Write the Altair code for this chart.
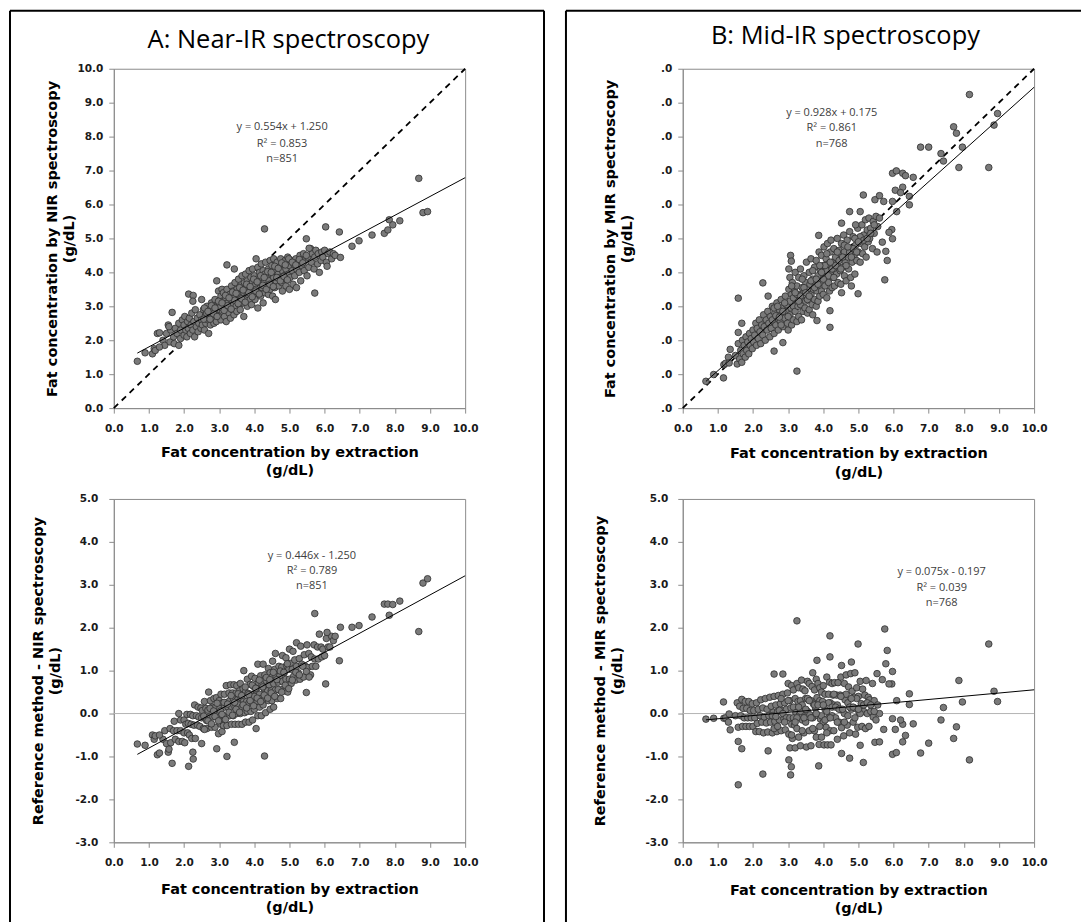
import altair as alt
import pandas as pd

# ---------------- values ----------------
# Panel A: (fat by extraction, fat by NIR spectroscopy)
nir_core = [
    (1.40, 2.00), (1.45, 1.85), (1.50, 2.20), (1.55, 2.45), (1.60, 1.95), (1.62, 2.30), (1.70, 2.10),
    (1.72, 1.90), (1.75, 2.35), (1.80, 2.20), (1.85, 2.50), (1.90, 2.05), (1.90, 2.30), (1.95, 2.60),
    (2.00, 2.15), (2.00, 2.45), (2.02, 2.70), (2.05, 2.30), (2.08, 2.10), (2.10, 2.55), (2.12, 2.35),
    (2.15, 2.65), (2.18, 2.20), (2.20, 2.45), (2.22, 2.80), (2.25, 2.30), (2.28, 2.55), (2.30, 2.10),
    (2.32, 2.90), (2.35, 2.40), (2.38, 2.65), (2.40, 2.25), (2.42, 2.50), (2.45, 2.75), (2.48, 2.35),
    (2.50, 3.20), (2.50, 2.60), (2.52, 2.45), (2.55, 2.90), (2.58, 2.30), (2.60, 2.70), (2.62, 2.50),
    (2.65, 3.00), (2.68, 2.60), (2.70, 2.20), (2.72, 2.80), (2.75, 2.45), (2.78, 3.10), (2.80, 2.65),
    (2.82, 2.90), (2.85, 2.50), (2.88, 3.20), (2.90, 2.75), (2.92, 2.55), (2.95, 3.00), (2.98, 3.45),
    (3.00, 2.70), (3.00, 3.10), (3.02, 2.90), (3.05, 3.30), (3.05, 2.60), (3.08, 3.50), (3.10, 2.85),
    (3.10, 3.15), (3.12, 3.40), (3.15, 2.70), (3.15, 3.00), (3.18, 3.25), (3.20, 2.55), (3.20, 2.95),
    (3.22, 3.50), (3.25, 3.10), (3.28, 2.80), (3.30, 3.35), (3.30, 3.00), (3.32, 2.65), (3.35, 3.60),
    (3.35, 3.20), (3.38, 2.90), (3.40, 3.45), (3.40, 3.05), (3.42, 2.75), (3.45, 3.30), (3.45, 3.70),
    (3.48, 3.00), (3.50, 3.50), (3.50, 2.85), (3.52, 3.20), (3.55, 3.80), (3.55, 3.35), (3.58, 3.05),
    (3.60, 3.60), (3.60, 2.90), (3.62, 3.25), (3.65, 3.50), (3.65, 3.90), (3.68, 3.10), (3.70, 3.40),
    (3.70, 2.70), (3.72, 3.70), (3.75, 3.25), (3.75, 3.95), (3.78, 3.50), (3.80, 3.00), (3.80, 3.75),
    (3.82, 3.35), (3.85, 4.05), (3.85, 3.60), (3.88, 3.20), (3.90, 3.85), (3.90, 3.45), (3.92, 3.05),
    (3.95, 3.70), (3.95, 4.10), (3.98, 3.35),
    (4.00, 3.60), (4.00, 3.90), (4.02, 3.20), (4.05, 4.40), (4.05, 3.50), (4.08, 3.80), (4.10, 2.95),
    (4.10, 4.15), (4.12, 3.40), (4.15, 3.70), (4.15, 4.00), (4.18, 3.30), (4.20, 3.85), (4.20, 4.25),
    (4.22, 3.55), (4.25, 3.10), (4.25, 4.05), (4.28, 3.70), (4.30, 3.40), (4.30, 3.95), (4.32, 4.30),
    (4.35, 3.60), (4.38, 3.85), (4.40, 3.35), (4.40, 4.10), (4.42, 3.75), (4.45, 4.35), (4.45, 3.50),
    (4.48, 3.95), (4.50, 3.65), (4.50, 4.20), (4.52, 3.30), (4.55, 3.85), (4.55, 4.40), (4.58, 3.55),
    (4.60, 4.05), (4.60, 3.20), (4.62, 3.75), (4.65, 4.30), (4.68, 3.95), (4.70, 3.60), (4.70, 4.15),
    (4.72, 3.85), (4.75, 4.40), (4.78, 3.70), (4.80, 4.05), (4.80, 3.45), (4.82, 4.25), (4.85, 3.90),
    (4.88, 4.35), (4.90, 3.60), (4.90, 4.10), (4.92, 3.80), (4.95, 4.45), (4.98, 3.95),
    (5.00, 3.50), (5.00, 4.20), (5.02, 3.85), (5.05, 4.35), (5.08, 4.05), (5.10, 3.65), (5.12, 4.25),
    (5.15, 3.90), (5.18, 4.40), (5.20, 3.55), (5.20, 4.10), (5.25, 4.30), (5.28, 4.00), (5.30, 4.50),
    (5.32, 3.75), (5.35, 4.20), (5.40, 4.55), (5.42, 4.05), (5.45, 4.35), (5.50, 3.90), (5.52, 4.45),
    (5.55, 4.15), (5.60, 4.70), (5.62, 4.30), (5.65, 4.55), (5.70, 4.10), (5.72, 4.45), (5.75, 4.65),
    (5.80, 4.25), (5.82, 4.55), (5.85, 4.00), (5.90, 4.35), (5.92, 4.60), (5.95, 4.45), (6.00, 4.65),
    (6.05, 4.30), (6.10, 4.55), (6.15, 4.60), (6.20, 4.40), (6.25, 4.55), (6.30, 4.50),
]
nir_core_dense = [
    (2.56, 2.62), (2.64, 2.80), (2.74, 2.62), (2.84, 2.78), (2.94, 2.70), (3.04, 2.98), (3.14, 2.88),
    (3.24, 3.02), (3.34, 2.92), (3.44, 3.18), (3.54, 3.08), (3.64, 3.22), (3.74, 3.12), (3.84, 3.40),
    (3.94, 3.28), (4.04, 3.45), (4.14, 3.36), (4.24, 3.62), (4.34, 3.50), (4.44, 3.65), (4.54, 3.58),
    (4.64, 3.85), (4.74, 3.75), (4.84, 3.88), (4.94, 3.78),
    (2.58, 2.95), (2.68, 2.85), (2.78, 3.02), (2.88, 2.95), (2.98, 3.15), (3.08, 3.10), (3.18, 3.32),
    (3.28, 3.25), (3.38, 3.42), (3.48, 3.38), (3.58, 3.55), (3.68, 3.48), (3.78, 3.65), (3.88, 3.58),
    (3.98, 3.80), (4.08, 3.72), (4.18, 3.90), (4.28, 3.85), (4.38, 4.02), (4.48, 4.00), (4.58, 4.18),
    (4.68, 4.12), (4.78, 4.28), (4.88, 4.22), (4.98, 4.40), (5.08, 4.30), (5.18, 4.22), (5.28, 4.38),
    (5.38, 4.28), (5.48, 4.50),
]
nir_outliers = [
    (0.67, 1.38), (0.89, 1.63), (1.10, 1.60), (1.15, 1.75), (1.18, 1.70), (1.24, 2.20), (1.30, 1.80),
    (1.30, 2.22), (1.57, 2.40), (1.66, 2.82), (1.85, 1.85), (2.13, 3.36), (2.26, 3.32), (2.25, 3.15),
    (2.93, 3.75), (3.22, 4.22), (3.43, 4.10), (4.29, 5.28), (5.48, 4.99), (5.72, 3.39), (6.03, 5.34),
    (6.42, 5.19), (5.56, 4.71), (6.07, 4.18), (6.45, 4.44), (6.78, 4.77), (6.98, 4.93), (7.35, 5.10),
    (7.70, 5.15), (7.80, 5.25), (7.84, 5.55), (7.94, 5.40), (8.14, 5.52), (8.68, 6.77), (8.80, 5.76),
    (8.93, 5.79),
]

# Panel B: (fat by extraction, fat by MIR spectroscopy)
mir_core = [
    (1.50, 1.55), (1.55, 1.30), (1.58, 1.90), (1.62, 1.45), (1.65, 1.70), (1.68, 1.35), (1.70, 2.00),
    (1.72, 1.60), (1.75, 1.85), (1.78, 1.50), (1.80, 2.10), (1.82, 1.70), (1.85, 1.95), (1.88, 1.60),
    (1.90, 2.20), (1.92, 1.85), (1.95, 2.05), (1.98, 1.75),
    (2.00, 2.30), (2.02, 1.95), (2.05, 2.15), (2.08, 2.50), (2.10, 1.85), (2.12, 2.35), (2.15, 2.05),
    (2.18, 2.60), (2.20, 2.25), (2.22, 1.90), (2.25, 2.45), (2.28, 2.15), (2.30, 2.75), (2.32, 2.40),
    (2.35, 2.00), (2.38, 2.60), (2.40, 2.30), (2.42, 2.85), (2.45, 2.50), (2.48, 2.10), (2.50, 2.70),
    (2.52, 2.35), (2.55, 3.00), (2.58, 2.55), (2.60, 2.20), (2.62, 2.80), (2.65, 2.45), (2.68, 3.10),
    (2.70, 2.65), (2.72, 2.30), (2.75, 2.90), (2.78, 2.55), (2.80, 3.20), (2.82, 2.75), (2.85, 2.40),
    (2.88, 3.00), (2.90, 2.65), (2.92, 3.30), (2.95, 2.85), (2.98, 2.50),
    (3.00, 3.10), (3.00, 2.30), (3.02, 3.50), (3.05, 2.75), (3.05, 3.85), (3.08, 2.95), (3.10, 3.35),
    (3.10, 2.45), (3.12, 3.70), (3.15, 3.00), (3.15, 2.60), (3.18, 3.45), (3.20, 2.85), (3.20, 4.00),
    (3.22, 3.20), (3.25, 2.55), (3.25, 3.60), (3.28, 3.00), (3.30, 3.85), (3.30, 2.70), (3.32, 3.35),
    (3.35, 3.05), (3.35, 4.10), (3.38, 2.60), (3.40, 3.55), (3.40, 3.20), (3.42, 2.85), (3.45, 3.90),
    (3.45, 3.40), (3.48, 2.95), (3.50, 3.70), (3.50, 3.15), (3.52, 4.30), (3.55, 2.80), (3.55, 3.50),
    (3.58, 3.25), (3.60, 4.00), (3.60, 2.90), (3.62, 3.65), (3.65, 3.35), (3.65, 4.40), (3.68, 3.05),
    (3.70, 3.80), (3.70, 2.75), (3.72, 3.50), (3.75, 4.15), (3.75, 3.20), (3.78, 3.65), (3.80, 3.00),
    (3.80, 4.35), (3.82, 3.45), (3.85, 3.90), (3.85, 3.15), (3.88, 4.60), (3.90, 3.60), (3.90, 3.30),
    (3.92, 4.05), (3.95, 3.45), (3.95, 4.50), (3.98, 3.70),
    (4.00, 3.35), (4.00, 4.20), (4.02, 4.75), (4.05, 3.60), (4.05, 3.95), (4.08, 4.40), (4.10, 3.25),
    (4.10, 4.05), (4.12, 4.85), (4.15, 3.70), (4.15, 4.25), (4.18, 3.45), (4.20, 4.60), (4.20, 3.95),
    (4.22, 4.95), (4.25, 3.55), (4.25, 4.30), (4.28, 3.85), (4.30, 4.70), (4.30, 4.10), (4.32, 3.60),
    (4.35, 4.45), (4.38, 3.95), (4.40, 5.00), (4.40, 4.20), (4.42, 3.70), (4.45, 4.65), (4.48, 4.05),
    (4.50, 4.40), (4.50, 3.65), (4.52, 4.85), (4.55, 4.15), (4.58, 5.10), (4.60, 3.90), (4.60, 4.60),
    (4.62, 4.30), (4.65, 3.75), (4.68, 4.95), (4.70, 4.45), (4.72, 4.10), (4.75, 5.20), (4.78, 3.85),
    (4.80, 4.70), (4.82, 4.30), (4.85, 5.05), (4.88, 4.50), (4.90, 3.95), (4.92, 4.80), (4.95, 4.35),
    (4.98, 5.30),
    (5.00, 4.60), (5.02, 5.00), (5.05, 4.30), (5.08, 4.85), (5.10, 5.40), (5.12, 4.55), (5.15, 5.10),
    (5.18, 4.75), (5.20, 5.55), (5.22, 4.45), (5.25, 5.25), (5.28, 4.90), (5.30, 5.60), (5.32, 5.00),
    (5.35, 5.30), (5.40, 4.70), (5.42, 5.50), (5.45, 5.15), (5.50, 5.65), (5.55, 5.35), (5.60, 5.60),
]
mir_core_dense = [
    (2.55, 2.60), (2.65, 2.72), (2.75, 2.68), (2.85, 2.85), (2.95, 3.05), (3.05, 3.15), (3.15, 3.25),
    (3.25, 3.35), (3.35, 3.30), (3.45, 3.55), (3.55, 3.20), (3.65, 3.75), (3.75, 3.55), (3.85, 3.65),
    (3.95, 4.00), (4.05, 4.20), (4.15, 3.90), (4.25, 4.10), (4.35, 4.20), (4.45, 4.35), (4.55, 4.45),
    (4.65, 4.20), (4.75, 4.60), (4.85, 4.70), (4.95, 4.60), (5.05, 5.05), (5.15, 4.95), (5.25, 5.00),
    (5.35, 5.15), (5.45, 5.40),
    (2.60, 2.95), (2.70, 3.00), (2.80, 2.45), (2.90, 3.10), (3.00, 2.70), (3.10, 3.60), (3.20, 3.40),
    (3.30, 3.15), (3.40, 3.80), (3.50, 3.40), (3.60, 3.30), (3.70, 4.05), (3.80, 3.80), (3.90, 4.20),
    (4.00, 3.80), (4.10, 4.55), (4.20, 4.30), (4.30, 3.85), (4.40, 4.60), (4.50, 4.10), (4.60, 4.80),
    (4.70, 4.75), (4.80, 4.45), (4.90, 5.00), (5.00, 4.90),
]
mir_outliers = [
    (0.66, 0.79), (0.88, 0.99), (1.16, 0.89), (1.17, 1.28), (1.22, 1.32), (1.30, 1.50), (1.32, 1.33),
    (1.35, 1.73), (1.58, 3.24), (1.58, 2.23), (1.68, 2.50), (2.28, 3.69), (2.43, 3.30), (2.60, 1.68),
    (2.85, 1.93), (3.25, 1.09), (3.07, 4.50), (3.09, 4.33), (3.02, 4.10), (3.82, 2.58), (3.87, 5.09),
    (4.19, 2.38), (4.19, 2.87), (4.52, 3.40), (4.80, 3.60), (4.99, 3.37), (4.75, 5.79), (5.05, 5.79),
    (4.52, 5.45), (4.92, 5.40), (5.14, 6.28), (5.47, 6.14), (5.60, 6.26), (5.72, 6.09), (5.75, 3.78),
    (5.82, 4.35), (5.97, 6.92), (6.08, 6.99), (6.26, 6.92), (6.34, 6.85), (6.56, 6.80), (6.05, 6.42),
    (6.26, 6.51), (6.20, 6.35), (6.45, 6.24), (6.45, 5.99), (5.97, 6.09), (6.09, 5.79), (5.97, 4.99),
    (5.95, 5.26), (5.87, 5.18), (5.68, 4.89), (5.53, 4.60), (5.78, 4.62), (6.77, 7.69), (7.00, 7.69),
    (7.35, 7.50), (7.42, 7.28), (7.71, 8.29), (7.79, 8.10), (7.96, 7.69), (7.86, 7.09), (8.16, 9.24),
    (8.71, 7.09), (8.86, 8.34), (8.96, 8.68),
]

# trend lines (slope, intercept) as printed on the figure
nir_fit_top = [0.554, 1.250]
nir_fit_bottom = [0.446, -1.250]
mir_fit_top = [0.928, 0.175]
mir_fit_bottom = [0.075, -0.197]

nir_top_stats = ["y = 0.554x + 1.250", "R\u00b2 = 0.853", "n=851"]
nir_bottom_stats = ["y = 0.446x - 1.250", "R\u00b2 = 0.789", "n=851"]
mir_top_stats = ["y = 0.928x + 0.175", "R\u00b2 = 0.861", "n=768"]
mir_bottom_stats = ["y = 0.075x - 0.197", "R\u00b2 = 0.039", "n=768"]

x_ticks = [0, 1, 2, 3, 4, 5, 6, 7, 8, 9, 10]
top_y_ticks = [0, 1, 2, 3, 4, 5, 6, 7, 8, 9, 10]
bottom_y_ticks = [-3, -2, -1, 0, 1, 2, 3, 4, 5]

# ---------------- tables ----------------
nir = pd.DataFrame(nir_core + nir_core_dense + nir_outliers, columns=["x", "pred"])
nir["diff"] = nir["x"] - nir["pred"]
mir = pd.DataFrame(mir_core + mir_core_dense + mir_outliers, columns=["x", "pred"])
mir["diff"] = mir["x"] - mir["pred"]

W = 352
H_TOP = 340
H_BOT = 344
ONE = pd.DataFrame({"k": [0]})
HYPHEN_LABELS = "replace(format(datum.value, '.1f'), '\u2212', '-')"


def panel(df, yfield, ydom, yticks, fit, stats, stats_pos, ytitle, h,
          xtitle_y, ytitle_x, ylab_pad, ref=None, label_expr=HYPHEN_LABELS,
          title=None, decor=()):
    x_enc = alt.X("x:Q", scale=alt.Scale(domain=[0, 10], nice=False, zero=False),
                  axis=alt.Axis(values=x_ticks, format=".1f", labelPadding=10,
                                labelFlush=False, labelOverlap=False,
                                title=["Fat concentration by extraction", "(g/dL)"],
                                titleY=xtitle_y, titleBaseline="top",
                                titleLineHeight=18.5))
    y_enc = alt.Y("y:Q", scale=alt.Scale(domain=ydom, nice=False, zero=False),
                  axis=alt.Axis(values=yticks, format=".1f", labelPadding=ylab_pad,
                                labelFlush=False, labelOverlap=False, labelExpr=label_expr,
                                title=[ytitle, "(g/dL)"], titleX=ytitle_x, titleY=h / 2,
                                titleAngle=270, titleAlign="center", titleBaseline="middle",
                                titleLineHeight=17))

    pts = df[["x", yfield]].rename(columns={yfield: "y"})
    layers = []
    for d in decor:
        layers.append(alt.Chart(ONE).mark_rule(color="black", strokeWidth=2).encode(**d))
    if title:
        layers.append(alt.Chart(ONE).mark_text(font="Open Sans", fontSize=25.5, align="center",
                                               baseline="alphabetic", color="black").encode(
            x=alt.value(title[1]), y=alt.value(title[2]), text=alt.value(title[0])))
    if ref == "identity":
        rdf = pd.DataFrame({"x": [0, 10], "y": [0, 10]})
        layers.append(alt.Chart(rdf).mark_line(color="black", strokeWidth=1.8,
                                               strokeDash=[6, 5]).encode(x=x_enc, y=y_enc))
    elif ref == "zero":
        rdf = pd.DataFrame({"x": [0, 10], "y": [0, 0]})
        layers.append(alt.Chart(rdf).mark_line(color="#b4b4b4", strokeWidth=1).encode(x=x_enc, y=y_enc))
    layers.append(alt.Chart(pts).mark_circle(size=44, color="#7a7a7a", stroke="#2e2e2e",
                                             strokeWidth=0.8, opacity=1).encode(x=x_enc, y=y_enc))
    fdf = pd.DataFrame({"x": [df["x"].min(), 10.0]})
    fdf["y"] = fit[0] * fdf["x"] + fit[1]
    layers.append(alt.Chart(fdf).mark_line(color="black", strokeWidth=1).encode(x=x_enc, y=y_enc))
    sdf = pd.DataFrame({"x": [stats_pos[0]] * 3, "y": stats_pos[1], "t": stats})
    layers.append(alt.Chart(sdf).mark_text(font="Open Sans", fontSize=11, color="#404040",
                                           align="center", baseline="middle").encode(
        x=x_enc, y=y_enc, text="t:N"))
    return alt.layer(*layers).properties(width=W, height=h)


LINE_END = 862
tl = panel(nir, "pred", [0, 10], top_y_ticks, nir_fit_top, nir_top_stats,
           (4.79, [8.29, 7.79, 7.35]), "Fat concentration by NIR spectroscopy", H_TOP,
           xtitle_y=37, ytitle_x=-61, ylab_pad=6, ref="identity",
           title=("A: Near-IR spectroscopy", 175, -21),
           decor=[dict(x=alt.value(-104), y=alt.value(-58), y2=alt.value(LINE_END)),
                  dict(x=alt.value(-104), x2=alt.value(431), y=alt.value(-58)),
                  dict(x=alt.value(431), y=alt.value(-58), y2=alt.value(LINE_END))])
tr = panel(mir, "pred", [0, 10], top_y_ticks, mir_fit_top, mir_top_stats,
           (4.24, [8.69, 8.24, 7.77]), "Fat concentration by MIR spectroscopy", H_TOP,
           xtitle_y=38.7, ytitle_x=-72, ylab_pad=6, ref="identity", label_expr="'.0'",
           title=("B: Mid-IR spectroscopy", 163, -25),
           decor=[dict(x=alt.value(-117), y=alt.value(-58), y2=alt.value(LINE_END)),
                  dict(x=alt.value(-117), x2=alt.value(399), y=alt.value(-58))])
bl = panel(nir, "diff", [-3, 5], bottom_y_ticks, nir_fit_bottom, nir_bottom_stats,
           (5.64, [3.68, 3.33, 2.96]), "Reference method - NIR spectroscopy", H_BOT,
           xtitle_y=40, ytitle_x=-75, ylab_pad=11, ref="zero")
br = panel(mir, "diff", [-3, 5], bottom_y_ticks, mir_fit_bottom, mir_bottom_stats,
           (7.37, [3.29, 2.92, 2.57]), "Reference method - MIR spectroscopy", H_BOT,
           xtitle_y=41, ytitle_x=-82, ylab_pad=10, ref="zero")

chart = alt.concat(
    tl, tr, bl, br, columns=2,
    spacing=alt.RowColnumber(row=91, column=218),
    bounds="flush", align="each",
).properties(padding=0, background="white").configure_view(
    stroke="#8c8c8c", strokeWidth=1
).configure_axis(
    domainColor="#8c8c8c", tickColor="#8c8c8c", tickSize=5, grid=False,
    labelFont="DejaVu Sans", labelFontSize=10.5, labelFontWeight="bold", labelColor="#1a1a1a",
    titleFont="DejaVu Sans", titleFontSize=14.5, titleFontWeight="bold", titleColor="black",
)

chart.save("out.html", embed_options={"renderer": "svg", "actions": False})
